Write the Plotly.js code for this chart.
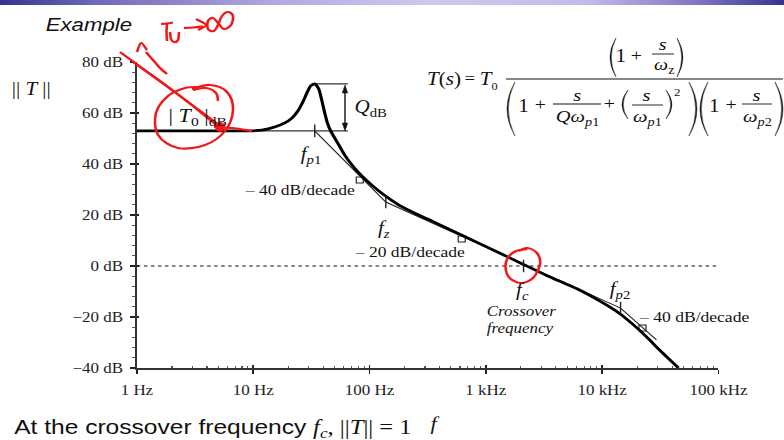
<!DOCTYPE html>
<html>
<head>
<meta charset="utf-8">
<script src="https://cdn.plot.ly/plotly-3.0.1.min.js"></script>
<style>
  html, body { margin: 0; padding: 0; background: #ffffff; }
  #page { position: relative; width: 784px; height: 440px; overflow: hidden; background: #ffffff; }
  #band { position: absolute; left: 0; top: 0; width: 784px; height: 5px;
          background: linear-gradient(to right, #34348c 0%, #6f68b8 12%, #b3a8e0 35%, #d2c7f0 55%, #c5b9ea 75%, #7a70c0 90%, #34348c 100%); }
  #chart { position: absolute; left: 0; top: 0; width: 670px; height: 440px;
           transform: scaleX(1.170149); transform-origin: 0 0; }
</style>
</head>
<body>
<div id="page">
  <div id="band"></div>
  <div id="chart"></div>
</div>
<script>
// Bode magnitude of T(s): frequency in Hz, magnitude in dB
const freqHz = [1, 3.5, 9.4, 11.9, 15.3, 18.7, 21.5, 24.2, 26.7, 28.9, 31.2, 33.8, 36.6, 38.8,
                41.2, 43.7, 46.4, 53.3, 61.2, 71.8, 85.7, 104, 130, 182, 270, 349, 684, 1310,
                2150, 3330, 6390, 9510, 14100, 18200, 24100, 31100, 45300];
const magDb = [53, 53, 53, 53.3, 54.5, 56.1, 58.0, 60.8, 64.3, 67.8, 70.6, 71.4, 69.4, 65.1,
               60.0, 55.7, 52.9, 48.2, 43.5, 39.2, 35.3, 31.8, 28.2, 23.7, 19.8, 17.5, 11.2, 5.1,
               0.4, -3.7, -9.4, -13.7, -18.6, -22.7, -27.8, -32.9, -40];

// straight-line asymptotes: fp1 -> fz -> fp2 -> beyond
const asymHz = [33.8, 138, 14400, 29300];
const asymDb = [53, 25.1, -16.5, -29.0];

// |T0|dB level and resonant peak level (QdB between them)
const t0LineHz = [1, 65];
const t0LineDb = [53, 53];
const peakLineHz = [31.9, 65];
const peakLineDb = [71.4, 71.4];

// corner / crossover frequencies: fp1, fz, fc, fp2
const cornerHz = [33.8, 138, 2110, 14400];
const cornerDb = [53, 25.1, 0, -16.5];

// slope markers on the asymptotes
const slopeHz = [82.4, 620, 22200];
const slopeDb = [33.7, 10.6, -24.3];

// axis ticks
const xTickVals = [1, 10, 100, 1000, 10000, 100000];
const xTickText = ['1 Hz', '10 Hz', '100 Hz', '1 kHz', '10 kHz', '100 kHz'];
const yTickVals = [-40, -20, 0, 20, 40, 60, 80];
const yTickText = ['\u221240 dB', '\u221220 dB', '0 dB', '20 dB', '40 dB', '60 dB', '80 dB'];

const SERIF = 'Liberation Serif, Times New Roman, serif';
const SANS = 'Liberation Sans, Arial, sans-serif';
const INK = '#111111';
const RED = '#f01818';

// page-pixel position -> paper fraction of the plotting area
const PL = 136.9, PW = 581.6, PT = 62, PH = 306;
const px = X => (X - PL) / PW;
const py = Y => (PT + PH - Y) / PH;

const xMinor = [];
for (let d = 0; d < 5; d++) for (let m = 2; m <= 9; m++) xMinor.push(m * Math.pow(10, d));
const yMinor = [];
for (let v = -40; v <= 80; v += 4) yMinor.push(v);

const traces = [
  { x: t0LineHz, y: t0LineDb, mode: 'lines', line: { color: '#333', width: 1.2 }, hoverinfo: 'skip' },
  { x: peakLineHz, y: peakLineDb, mode: 'lines', line: { color: '#333', width: 1.2 }, hoverinfo: 'skip' },
  { x: asymHz, y: asymDb, mode: 'lines', line: { color: '#222', width: 1 }, hoverinfo: 'skip' },
  { x: slopeHz, y: slopeDb, mode: 'markers', hoverinfo: 'skip',
    marker: { symbol: 'square-open', size: 6, color: '#222', line: { width: 1, color: '#222' } } },
  { x: freqHz, y: magDb, mode: 'lines', line: { color: '#000', width: 2.7, shape: 'spline', smoothing: 0.6 } },
  { x: cornerHz, y: cornerDb, mode: 'markers', hoverinfo: 'skip',
    marker: { symbol: 'line-ns', size: 9, color: '#222', line: { width: 1.2, color: '#222' } } },
  // carriers for the overlay axes that draw the inner half of each major tick
  { x: [], y: [], xaxis: 'x2', yaxis: 'y', hoverinfo: 'skip' },
  { x: [], y: [], xaxis: 'x', yaxis: 'y2', hoverinfo: 'skip' }
];

function note(text, X, Y, size, extra) {
  return Object.assign({ xref: 'paper', yref: 'paper', x: px(X), y: py(Y), text: text,
    showarrow: false, xanchor: 'center', yanchor: 'middle',
    font: { family: SERIF, size: size, color: INK } }, extra || {});
}

// smooth pen stroke through page-pixel points
function stroke(pts) {
  let d = 'M' + px(pts[0][0]).toFixed(5) + ',' + py(pts[0][1]).toFixed(5);
  for (let i = 0; i < pts.length - 1; i++) {
    const p0 = pts[i - 1] || pts[i], p1 = pts[i], p2 = pts[i + 1], p3 = pts[i + 2] || pts[i + 1];
    const c1 = [p1[0] + (p2[0] - p0[0]) / 6, p1[1] + (p2[1] - p0[1]) / 6];
    const c2 = [p2[0] - (p3[0] - p1[0]) / 6, p2[1] - (p3[1] - p1[1]) / 6];
    d += ' C' + px(c1[0]).toFixed(5) + ',' + py(c1[1]).toFixed(5) + ' ' +
         px(c2[0]).toFixed(5) + ',' + py(c2[1]).toFixed(5) + ' ' +
         px(p2[0]).toFixed(5) + ',' + py(p2[1]).toFixed(5);
  }
  return { type: 'path', xref: 'paper', yref: 'paper', path: d, layer: 'above',
           line: { color: RED, width: 2.2 } };
}

// tall bracket drawn as a thin crescent; open = 'left' for "(" and 'right' for ")"
function bracket(x0, x1, top, bot, open) {
  const mid = (top + bot) / 2, t = 1.3;
  let tipX, bulge, inner;
  if (open === 'left') { tipX = x1; bulge = 2 * x0 - x1; inner = 2 * (x0 + t) - x1; }
  else { tipX = x0; bulge = 2 * x1 - x0; inner = 2 * (x1 - t) - x0; }
  const P = (X, Y) => px(X).toFixed(5) + ',' + py(Y).toFixed(5);
  const d = 'M' + P(tipX, top) + ' Q' + P(bulge, mid) + ' ' + P(tipX, bot) +
            ' Q' + P(inner, mid) + ' ' + P(tipX, top) + ' Z';
  return { type: 'path', xref: 'paper', yref: 'paper', path: d,
           fillcolor: INK, line: { color: INK, width: 0.4 } };
}

function hline(X0, X1, Y, w) {
  return { type: 'line', xref: 'paper', yref: 'paper', x0: px(X0), x1: px(X1), y0: py(Y), y1: py(Y),
           line: { color: INK, width: w || 1 } };
}

function tri(a, b, c) {
  const P = p => px(p[0]).toFixed(5) + ',' + py(p[1]).toFixed(5);
  return { type: 'path', xref: 'paper', yref: 'paper', path: 'M' + P(a) + ' L' + P(b) + ' L' + P(c) + ' Z',
           fillcolor: INK, line: { color: INK, width: 0.5 } };
}

const shapes = [
  // 0 dB reference
  { type: 'line', xref: 'paper', yref: 'y', x0: 0, x1: 1, y0: 0, y1: 0,
    line: { color: '#111', width: 1, dash: 'dot' } },
  // QdB double arrow
  { type: 'line', xref: 'paper', yref: 'paper', x0: px(345), x1: px(345), y0: py(90), y1: py(126),
    line: { color: INK, width: 1.2 } },
  tri([345, 85], [342.3, 93], [347.7, 93]),
  tri([345, 131], [342.3, 123], [347.7, 123]),

  // T(s) formula: main fraction bar, numerator and denominator bars, brackets
  hline(506, 783, 79, 1),
  hline(652, 674, 54, 0.9),
  hline(553, 601, 104, 0.9),
  hline(632, 663, 105, 0.9),
  hline(742, 772, 104, 0.9),
  bracket(610, 616, 38, 77, 'left'),
  bracket(677, 683, 38, 77, 'right'),
  bracket(507, 515, 82, 136, 'left'),
  bracket(689, 697, 82, 136, 'right'),
  bracket(622, 628, 90, 119, 'left'),
  bracket(666, 672, 90, 119, 'right'),
  bracket(700, 708, 82, 136, 'left'),
  bracket(775, 783, 82, 136, 'right'),

  // red pen notes
  stroke([[161, 24], [167, 23.5], [173, 22.5]]),
  stroke([[167, 24], [166.5, 32], [167, 41]]),
  stroke([[170, 32], [171, 39], [174, 42], [178, 40], [179, 32]]),
  stroke([[184, 28], [193, 27.5], [203, 26.5]]),
  stroke([[196, 19], [206, 25], [198, 30]]),
  stroke([[218, 23], [213, 18], [208, 21], [208, 29], [214, 31], [218, 25], [222, 16], [228, 12],
          [233, 16], [231, 25], [224, 29], [219, 24]]),
  stroke([[137, 52], [141, 43], [147, 50]]),
  stroke([[146, 52], [153, 60], [160, 68], [167, 74]]),
  stroke([[120, 52], [165, 85], [222, 127]]),
  stroke([[133, 62], [175, 92], [220, 128]]),
  stroke([[200, 87], [185, 88], [168, 96], [156, 113], [158, 135], [178, 148], [205, 145],
          [225, 131], [233, 110], [227, 92], [210, 85], [192, 89]]),
  stroke([[193, 90], [206, 88], [216, 93], [218, 101]]),
  stroke([[214, 127], [232, 128], [252, 131]]),
  { type: 'circle', xref: 'paper', yref: 'paper', x0: px(215), x1: px(225), y0: py(132), y1: py(122),
    fillcolor: RED, line: { color: RED, width: 0 }, layer: 'above' },
  stroke([[527, 249], [514, 252], [506, 262], [508, 276], [520, 283], [533, 278], [540, 264],
          [537, 253], [527, 248], [519, 251]])
];

const serifSpan = '<span style="font-family:Liberation Serif, Times New Roman, serif">';

const annotations = [
  note('<i>Example</i>', 43, 25, 19, { xanchor: 'left', font: { family: SANS, size: 19, color: '#111' } }),
  note('|| <i>T</i> ||', 31, 89, 18),
  note('| <i>T</i><sub>0</sub> |<sub>dB</sub>', 198, 117, 19),
  note('<i>Q</i><sub>dB</sub>', 352, 108, 18, { xanchor: 'left' }),
  note('<i>f</i><sub><i>p</i>1</sub>', 311, 155, 18),
  note('\u2013 40 dB/decade', 300, 190, 15),
  note('<i>f</i><sub><i>z</i></sub>', 384, 229, 18),
  note('\u2013 20 dB/decade', 410, 252, 15),
  note('<i>f</i><sub><i>c</i></sub>', 522, 291, 18),
  note('<i>Crossover</i>', 521, 311, 14.5),
  note('<i>frequency</i>', 520, 328, 14.5),
  note('<i>f</i><sub><i>p</i>2</sub>', 620, 290, 18),
  note('\u2013 40 dB/decade', 694, 317, 15),
  note('<i>f</i>', 435, 423, 19),
  note('At the crossover frequency ' + serifSpan + '<i>f</i><sub><i>c</i></sub>, ||<i>T</i>|| = 1</span>', 12, 428, 21,
       { xanchor: 'left', font: { family: SANS, size: 21, color: '#111' } }),

  // T(s) formula text
  note('<i>T</i>(<i>s</i>)', 425, 79, 18, { xanchor: 'left' }),
  note('=', 470, 78, 16),
  note('<i>T</i>', 477, 79, 18, { xanchor: 'left' }),
  note('0', 494.5, 86, 10.5),
  note('1', 621, 56, 18),
  note('+', 637, 55, 17),
  note('<i>s</i>', 663, 45, 17),
  note('<i>\u03c9</i><sub>z</sub>', 664, 66, 17),
  note('1', 524, 106, 18),
  note('+', 541, 105, 17),
  note('<i>s</i>', 577, 95, 17.5),
  note('<i>Q\u03c9</i><sub><i>p</i>1</sub>', 578, 117, 17.5),
  note('+', 610, 104, 17),
  note('<i>s</i>', 647, 95, 17.5),
  note('<i>\u03c9</i><sub><i>p</i>1</sub>', 648, 117, 17.5),
  note('2', 677, 92, 11),
  note('1', 714, 106, 18),
  note('+', 731, 105, 17),
  note('<i>s</i>', 757, 95, 17.5),
  note('<i>\u03c9</i><sub><i>p</i>2</sub>', 758, 117, 17.5)
];

const axisFont = { family: SERIF, size: 14.5, color: '#222' };

const layout = {
  width: 670, height: 440,
  margin: { l: 117, r: 56, t: 62, b: 72, pad: 0 },
  paper_bgcolor: 'rgba(0,0,0,0)', plot_bgcolor: 'rgba(0,0,0,0)',
  showlegend: false,
  xaxis: {
    type: 'log', range: [0, 5], fixedrange: true,
    tickmode: 'array', tickvals: xTickVals, ticktext: xTickText, tickfont: axisFont,
    ticks: 'outside', ticklen: 4, tickwidth: 1.3, tickcolor: '#222', ticklabelstandoff: 4,
    minor: { tickmode: 'array', tickvals: xMinor, ticks: 'inside', ticklen: 2, tickwidth: 1, tickcolor: '#555', showgrid: false },
    showline: true, linecolor: '#333', linewidth: 2, showgrid: false, zeroline: false
  },
  xaxis2: {
    type: 'log', range: [0, 5], overlaying: 'x', anchor: 'y', side: 'bottom', fixedrange: true,
    tickmode: 'array', tickvals: xTickVals, ticks: 'inside', ticklen: 3, tickwidth: 1.3, tickcolor: '#222',
    showticklabels: false, showline: false, showgrid: false, zeroline: false
  },
  yaxis: {
    range: [-40, 80], fixedrange: true,
    tickmode: 'array', tickvals: yTickVals, ticktext: yTickText, tickfont: axisFont,
    ticks: 'outside', ticklen: 4, tickwidth: 1.3, tickcolor: '#222', ticklabelstandoff: 3,
    minor: { tickmode: 'array', tickvals: yMinor, ticks: 'outside', ticklen: 2.5, tickwidth: 1, tickcolor: '#555', showgrid: false },
    showline: true, linecolor: '#333', linewidth: 2, showgrid: false, zeroline: false
  },
  yaxis2: {
    range: [-40, 80], overlaying: 'y', anchor: 'x', side: 'left', fixedrange: true,
    tickmode: 'array', tickvals: yTickVals, ticks: 'inside', ticklen: 2, tickwidth: 1.3, tickcolor: '#222',
    showticklabels: false, showline: false, showgrid: false, zeroline: false
  },
  shapes: shapes,
  annotations: annotations
};

Plotly.newPlot('chart', traces, layout, { displayModeBar: false, staticPlot: true });
</script>
</body>
</html>
